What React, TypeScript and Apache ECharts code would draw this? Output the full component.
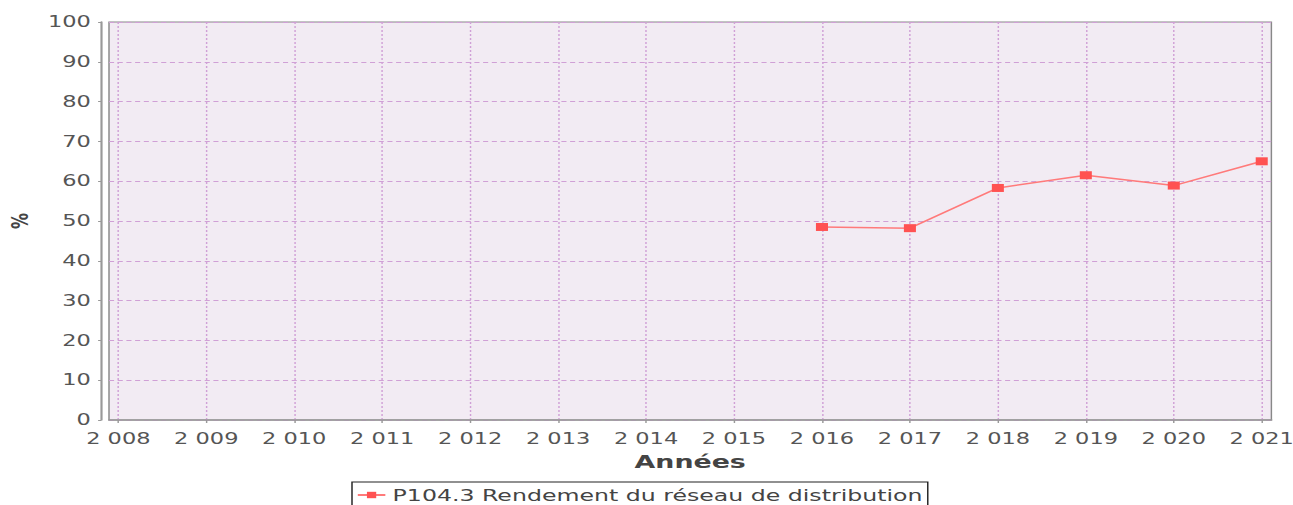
import React, { useEffect, useRef } from "react";
import * as echarts from "echarts";

const years = [2008, 2009, 2010, 2011, 2012, 2013, 2014, 2015, 2016, 2017, 2018, 2019, 2020, 2021];
const rendement = [null, null, null, null, null, null, null, null, 48.5, 48.2, 58.3, 61.5, 58.9, 65.0];
const yTicks = [0, 10, 20, 30, 40, 50, 60, 70, 80, 90, 100];
const seriesName = "P104.3 Rendement du réseau de distribution";
const xTitle = "Années";
const yTitle = "%";

const SX = 1.45;
const W = 1293 / SX;
const H = 505;
const FONT = "DejaVu Sans";

export default function App() {
  const ref = useRef<HTMLDivElement>(null);
  useEffect(() => {
    if (!ref.current) return;
    const chart = echarts.init(ref.current, null, { renderer: "svg" });
    const data = years.map((y, i) => [y, rendement[i]]).filter((d) => d[1] !== null);
    chart.setOption({
      animation: false,
      textStyle: { fontFamily: FONT },
      grid: {
        left: 109 / SX,
        right: 22 / SX,
        top: 22,
        bottom: 85,
        containLabel: false,
        outerBoundsMode: "none",
        show: true,
        backgroundColor: "#f2ebf3",
        borderColor: "#888",
        borderWidth: 1,
      },
      xAxis: {
        type: "value",
        min: 2007.894,
        max: 2021.11,
        offset: 4,
        name: xTitle,
        nameLocation: "middle",
        nameGap: 27,
        nameTextStyle: { fontFamily: FONT, fontSize: 18.5, fontWeight: "bold", color: "#444" },
        axisLine: { show: true, lineStyle: { color: "#999", width: 1.5 } },
        axisTick: { show: true, length: 3, customValues: years, lineStyle: { color: "#999" } },
        axisLabel: {
          customValues: years,
          margin: 7,
          fontFamily: FONT,
          fontSize: 15.5,
          color: "#555",
          formatter: (v: number) => {
            const s = String(Math.round(v));
            return s.slice(0, 1) + " " + s.slice(1);
          },
        },
        splitLine: { show: true, lineStyle: { color: "#d0a0d6", type: [2, 2], width: 1 } },
      },
      yAxis: {
        type: "value",
        min: 0,
        max: 100,
        interval: 10,
        offset: 8 / SX,
        name: yTitle,
        nameLocation: "middle",
        nameGap: 46,
        nameRotate: 90,
        nameTextStyle: { fontFamily: FONT, fontSize: 16, fontWeight: "bold", color: "#444" },
        axisLine: { show: true, lineStyle: { color: "#999", width: 1.5 } },
        axisTick: { show: true, length: 2, lineStyle: { color: "#999" } },
        axisLabel: {
          margin: 7,
          fontFamily: FONT,
          fontSize: 15.5,
          color: "#555",
          customValues: yTicks,
        },
        splitLine: { show: true, lineStyle: { color: "#d0a0d6", type: [3.5, 2.5], width: 1 } },
      },
      legend: {
        show: true,
        left: 352 / SX,
        top: 482,
        padding: [5, 4, 5, 3],
        itemWidth: 19,
        itemHeight: 8,
        itemGap: 5,
        borderColor: "#222",
        borderWidth: 1,
        borderRadius: 0,
        backgroundColor: "#fff",
        textStyle: { fontFamily: FONT, fontSize: 16.3, color: "#444" },
        data: [seriesName],
      },
      series: [
        {
          name: seriesName,
          type: "line",
          data,
          symbol: "rect",
          symbolSize: [8.3, 8],
          itemStyle: { color: "#ff5252" },
          lineStyle: { color: "#ff7a7a", width: 1.5 },
        },
      ],
    });
    return () => chart.dispose();
  }, []);
  return (
    <div
      ref={ref}
      style={{
        position: "absolute",
        left: 0,
        top: 0,
        width: W,
        height: H,
        transform: `scaleX(${SX})`,
        transformOrigin: "0 0",
      }}
    />
  );
}
